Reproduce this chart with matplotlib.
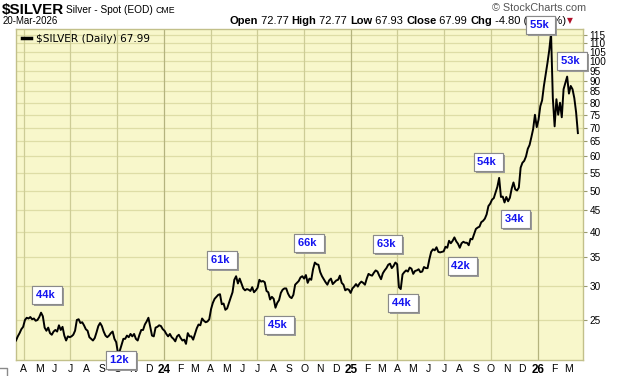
"""$SILVER daily spot chart, StockCharts style."""

import matplotlib
matplotlib.use("Agg")
import matplotlib.pyplot as plt
import matplotlib.patheffects as pe
import numpy as np
import pandas as pd
from matplotlib.lines import Line2D

# ---------------------------------------------------------------------------
# Data: half-weekly closes, 17-Mar-2023 .. 20-Mar-2026
# ---------------------------------------------------------------------------
START = "2023-03-17"
prices = [
    22.4, 22.9, 23.3, 23.8, 24.1, 25.0, 25.3, 25.2,
    25.4, 25.1, 25.2, 24.9, 25.0, 25.4, 26.0, 25.5,
    24.0, 23.6, 24.0, 23.3, 23.1, 23.5, 23.7, 23.5,
    24.3, 23.7, 24.1, 23.0, 22.4, 22.9, 22.8, 22.9,
    23.1, 23.6, 25.0, 25.1, 24.6, 24.7, 24.3, 23.8,
    23.6, 22.8, 22.6, 22.4, 22.7, 23.4, 24.2, 24.6,
    24.2, 23.5, 23.0, 22.8, 23.0, 23.3, 23.5, 22.6,
    22.2, 20.9, 21.2, 21.9, 22.6, 22.6, 23.0, 22.8,
    23.2, 22.9, 23.2, 22.6, 22.4, 23.1, 23.7, 23.7,
    24.4, 24.8, 25.3, 24.1, 23.0, 22.9, 24.0, 24.1,
    24.3, 24.2, 23.8, 23.6, 23.2, 22.9, 23.2, 22.8,
    22.6, 22.3, 22.9, 23.1, 22.7, 22.4, 22.5, 22.0,
    23.3, 22.9, 22.9, 22.5, 23.2, 23.9, 24.4, 24.3,
    25.2, 24.9, 24.7, 24.8, 25.1, 26.5, 27.4, 28.0,
    28.3, 28.6, 28.7, 27.2, 27.3, 26.4, 26.6, 27.4,
    28.2, 29.0, 31.0, 31.6, 30.4, 31.2, 30.4, 29.6,
    29.3, 29.5, 29.4, 29.2, 29.8, 29.0, 29.3, 29.7,
    31.0, 30.7, 30.8, 30.6, 29.2, 29.0, 27.9, 28.3,
    28.0, 26.7, 27.4, 27.8, 28.9, 29.4, 29.6, 29.6,
    28.8, 28.3, 28.1, 28.6, 30.2, 30.5, 30.8, 31.4,
    31.6, 31.2, 31.8, 30.5, 31.2, 31.0, 32.8, 34.0,
    33.7, 33.6, 32.3, 31.6, 31.1, 30.6, 30.2, 30.9,
    31.2, 30.3, 30.6, 30.9, 31.0, 31.7, 30.5, 30.2,
    29.3, 29.5, 29.4, 28.9, 29.6, 29.9, 30.3, 29.9,
    30.4, 30.7, 30.5, 30.2, 31.2, 32.0, 31.8, 31.7,
    32.2, 32.6, 32.4, 31.7, 31.1, 32.1, 32.6, 33.0,
    33.6, 33.8, 33.0, 33.4, 34.0, 33.7, 29.8, 29.5,
    31.9, 32.3, 32.6, 32.4, 33.1, 32.9, 32.0, 32.5,
    32.6, 32.8, 32.3, 32.4, 33.2, 33.0, 33.0, 34.6,
    36.0, 36.5, 36.3, 36.9, 36.0, 35.9, 36.0, 36.1,
    37.0, 36.8, 38.2, 37.7, 38.2, 38.9, 38.1, 37.6,
    36.8, 37.7, 38.0, 37.8, 37.8, 37.3, 38.6, 38.5,
    39.6, 40.7, 41.0, 41.2, 42.2, 42.5, 43.0, 44.0,
    46.0, 46.6, 47.6, 48.0, 49.5, 51.0, 53.5, 48.3,
    48.4, 46.9, 48.3, 47.2, 48.1, 50.5, 52.2, 50.3,
    50.0, 50.8, 56.5, 58.0, 58.6, 60.0, 62.5, 63.8,
    66.5, 69.5, 75.0, 70.2, 73.0, 78.5, 81.0, 87.5,
    93.0, 99.0, 106.0, 116.0, 82.0, 70.5, 81.5, 75.0,
    80.0, 74.0, 86.0, 89.0, 92.0, 84.0, 87.5, 86.0,
    82.0, 76.0, 67.99,
]
dates = pd.date_range(START, periods=len(prices), freq="84h")

# volume call-outs
vol_labels = ["44k", "12k", "61k", "45k", "66k", "63k", "44k", "42k",
              "54k", "34k", "55k", "53k"]
# where each call-out box sits (date, price)
label_x = ["2023-05-16", "2023-10-08", "2024-04-23", "2024-08-13", "2024-10-10",
           "2025-03-13", "2025-04-12", "2025-08-06", "2025-09-26", "2025-11-18",
           "2026-01-06", "2026-03-08"]
label_y = [28.6, 20.2, 34.5, 24.3, 37.8, 37.6, 27.4, 33.4, 58.3, 42.9, 121.2, 100.0]

y_ticks = list(range(25, 120, 5))
month_starts = pd.date_range("2023-04-01", "2026-03-01", freq="MS")

header_parts = [("Open", True), (" 72.77 ", False), ("High", True), (" 72.77 ", False),
                ("Low", True), (" 67.93 ", False), ("Close", True), (" 67.99 ", False),
                ("Chg", True), (" -4.80 (-6.59%)", False)]

# ---------------------------------------------------------------------------
# Plot
# ---------------------------------------------------------------------------
BG = "#F8F7CB"
GRID = "#DEDDA6"
QGRID = "#CDCC96"
YGRID = "#B4B37E"
FONT = "Liberation Sans"

fig = plt.figure(figsize=(6.2, 3.76), dpi=100)
ax = fig.add_axes([16 / 620, 16 / 376, 567 / 620, 331 / 376])
ax.set_facecolor(BG)

ax.plot(dates, prices, color="black", lw=1.4, zorder=3, solid_joinstyle="round")

ax.set_yscale("log")
ax.set_ylim(20.18, 118.7)
ax.set_xlim(pd.Timestamp(START), pd.Timestamp("2026-03-30"))

# horizontal grid
ax.yaxis.tick_right()
ax.set_yticks(y_ticks)
ax.set_yticklabels([str(v) for v in y_ticks], fontsize=7.2, family=FONT)
ax.set_yticks([21, 22.5, 27.5, 32.5, 37.5, 42.5, 47.5, 52.5, 57.5, 62.5, 67.5,
               72.5, 77.5, 82.5, 87.5, 92.5, 97.5, 102.5, 107.5, 112.5], minor=True)
ax.yaxis.set_minor_formatter(plt.NullFormatter())
ax.tick_params(axis="y", which="major", length=3, color="#9a9a70", pad=1.5)
ax.tick_params(axis="y", which="minor", length=2, color="#9a9a70")
for v in y_ticks:
    ax.axhline(v, color=GRID, lw=0.9, zorder=1)

# vertical grid at quarter starts, darker at year starts
for d in month_starts:
    if d.month == 1:
        ax.axvline(d, color=YGRID, lw=0.9, zorder=1)
    elif d.month in (4, 7, 10):
        ax.axvline(d, color=QGRID, lw=0.9, zorder=1)

ax.set_xticks(month_starts)
ax.set_xticklabels([d.strftime("%y") if d.month == 1 else d.strftime("%b")[0]
                    for d in month_starts], family=FONT, fontsize=7.5)
for d, lab in zip(month_starts, ax.get_xticklabels()):
    if d.month == 1:
        lab.set_fontweight("bold")
        lab.set_fontsize(8.5)
ax.tick_params(axis="x", length=0, pad=3)
ax.minorticks_on()
ax.xaxis.set_minor_locator(plt.NullLocator())

for s in ax.spines.values():
    s.set_color("#C2C08A")
    s.set_linewidth(1.0)

# legend
ax.legend([Line2D([], [], color="black", lw=2.5)], [r"\$SILVER (Daily) 67.99"],
          loc="upper left", bbox_to_anchor=(0.0, 1.005), frameon=False,
          handlelength=0.8, handletextpad=0.5, borderaxespad=0.2,
          prop={"family": "DejaVu Sans", "size": 7.6})

# call-out boxes
for lab, x, y in zip(vol_labels, label_x, label_y):
    t = ax.text(pd.Timestamp(x), y, lab + " ", ha="center", va="center",
                fontsize=8, fontweight="bold", color="#1414F0", family=FONT,
                zorder=10, clip_on=False,
                bbox=dict(boxstyle="square,pad=0.35", fc="white", ec="#8a8a8a", lw=0.8))
    t.get_bbox_patch().set_path_effects(
        [pe.withSimplePatchShadow(offset=(1.5, -1.5), shadow_rgbFace="#9a9a9a", alpha=1.0),
         pe.Normal()])

# header (pixel coordinates, drawn under the call-outs)
H = 376
renderer = fig.canvas.get_renderer()


def put(x, y, s, **kw):
    t = ax.text(x, H - y, s, transform=None, va="center", ha="left",
                clip_on=False, zorder=2, **kw)
    return x + t.get_window_extent(renderer).width


x = put(2, 10, r"\$SILVER", fontsize=11, fontweight="bold", family=FONT)
x = put(x + 2, 10, "Silver - Spot (EOD)", fontsize=7.3, family=FONT)
put(x + 3, 10.5, "CME", fontsize=6.3, family=FONT)
put(3, 21, "20-Mar-2026", fontsize=6.9, family=FONT)

x = 229
for s, bold in header_parts:
    x = put(x, 21, s, fontsize=8, family=FONT,
            fontweight="bold" if bold else "normal")
put(x + 1, 21, "▼", fontsize=5.5, color="#B0102A", family="DejaVu Sans")
ax.text(586, H - 8, "© StockCharts.com", transform=None, ha="right", va="center",
        fontsize=7.8, color="#555555", family=FONT, clip_on=False)

# corner of the lower panel
fig.add_artist(Line2D([0, 7 / 620, 7 / 620], [8 / 376, 8 / 376, 0],
                      color="#8a8a8a", lw=1.0))

fig.savefig("out.png", dpi=100)
